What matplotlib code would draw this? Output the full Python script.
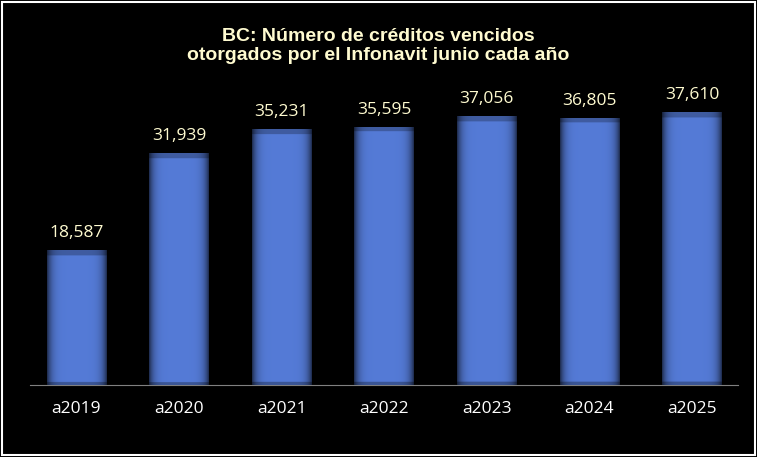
import numpy as np
import matplotlib.pyplot as plt
from matplotlib.patches import Rectangle

years = ["a2019", "a2020", "a2021", "a2022", "a2023", "a2024", "a2025"]
values = [18587, 31939, 35231, 35595, 37056, 36805, 37610]
labels = ["18,587", "31,939", "35,231", "35,595", "37,056", "36,805", "37,610"]

fig = plt.figure(figsize=(7.57, 4.57), dpi=100, facecolor="black")
fig.patches.append(Rectangle((0.003, 0.004), 0.994, 0.992, transform=fig.transFigure,
                             fill=False, edgecolor="white", linewidth=1.5))
ax = fig.add_axes([0.04, 0.158, 0.935, 0.635], facecolor="black")

x = np.arange(len(years))
w = 0.58
bars = ax.bar(x, values, width=w, color="#4a6fc0", zorder=2)

# bevel-like shading for each bar
t = np.linspace(-1, 1, 60)
shade = 1 - 0.6 * np.abs(t) ** 6
base = np.array([0.33, 0.48, 0.84])
for b in bars:
    bx, by, bw, bh = b.get_x(), b.get_y(), b.get_width(), b.get_height()
    ty = np.linspace(0, bh, 400)
    vert = np.ones_like(ty)
    vert[ty > bh - 700] = 0.75
    vert[ty < 400] = 0.7
    img = base[None, None, :] * (shade[None, :, None] * vert[:, None, None])
    im = ax.imshow(np.clip(img, 0, 1), extent=[bx, bx + bw, by, by + bh], origin="lower",
                   aspect="auto", zorder=3)
    im.set_clip_path(b)

for xi, v, lab in zip(x, values, labels):
    ax.text(xi, v + 1200, lab, ha="center", va="bottom", color="#fffbd0", fontsize=12.5,
            family="Open Sans")

ax.set_xlim(-0.45, len(years) - 0.55)
ax.set_ylim(0, 40000)
ax.set_yticks([])
ax.set_xticks(x)
ax.set_xticklabels(years, color="white", fontsize=12.5, family="Open Sans")
ax.tick_params(axis="x", length=0, pad=12)
for s in ["left", "right", "top"]:
    ax.spines[s].set_visible(False)
ax.spines["bottom"].set_color("#808080")

fig.text(0.5, 0.9, "BC: Número de créditos vencidos\notorgados por el Infonavit junio cada año",
         ha="center", va="center", color="#fffbd0", fontsize=14, fontweight="bold",
         family="Liberation Sans", linespacing=1.15)

fig.savefig("out.png", dpi=100, facecolor="black")
